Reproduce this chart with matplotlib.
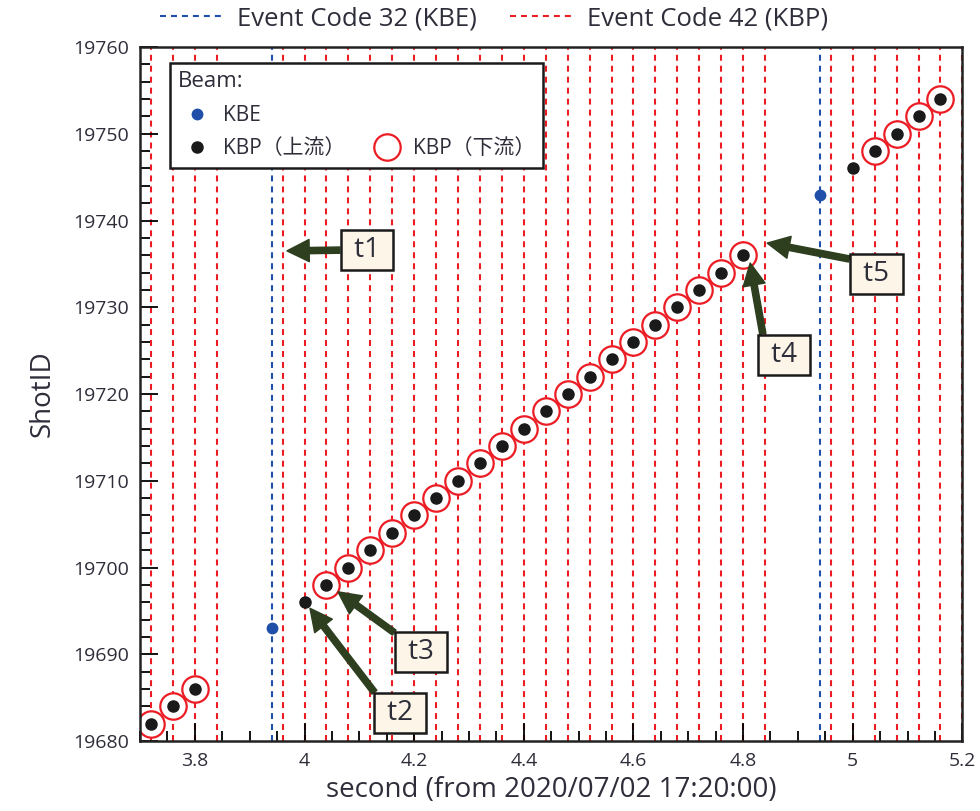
import matplotlib
matplotlib.use("Agg")
import matplotlib.pyplot as plt
from matplotlib.lines import Line2D
from matplotlib.ticker import MultipleLocator

plt.rcParams['font.family'] = ['Open Sans', 'Noto Sans CJK JP', 'DejaVu Sans']
plt.rcParams['lines.scale_dashes'] = False

# event code timings (seconds)
kbe_events = [3.94, 4.94]
kbp_events = [3.72, 3.76, 3.80, 3.84, 3.96, 4.00, 4.04, 4.08, 4.12, 4.16,
              4.20, 4.24, 4.28, 4.32, 4.36, 4.40, 4.44, 4.48, 4.52, 4.56,
              4.60, 4.64, 4.68, 4.72, 4.76, 4.80, 4.84, 4.96, 5.00, 5.04,
              5.08, 5.12, 5.16, 5.20]

# beam shots
kbe_x = [3.94, 4.94]
kbe_y = [19693, 19743]

kbp_up_x = [3.72, 3.76, 3.80, 4.00, 4.04, 4.08, 4.12, 4.16, 4.20, 4.24,
            4.28, 4.32, 4.36, 4.40, 4.44, 4.48, 4.52, 4.56, 4.60, 4.64,
            4.68, 4.72, 4.76, 4.80, 5.00, 5.04, 5.08, 5.12, 5.16]
kbp_up_y = [19682, 19684, 19686, 19696, 19698, 19700, 19702, 19704, 19706, 19708,
            19710, 19712, 19714, 19716, 19718, 19720, 19722, 19724, 19726, 19728,
            19730, 19732, 19734, 19736, 19746, 19748, 19750, 19752, 19754]

kbp_down_x = [3.72, 3.76, 3.80, 4.04, 4.08, 4.12, 4.16, 4.20, 4.24, 4.28,
              4.32, 4.36, 4.40, 4.44, 4.48, 4.52, 4.56, 4.60, 4.64, 4.68,
              4.72, 4.76, 4.80, 5.04, 5.08, 5.12, 5.16]
kbp_down_y = [19682, 19684, 19686, 19698, 19700, 19702, 19704, 19706, 19708, 19710,
              19712, 19714, 19716, 19718, 19720, 19722, 19724, 19726, 19728, 19730,
              19732, 19734, 19736, 19748, 19750, 19752, 19754]

# annotations: label, arrow tip, box centre
notes = [
    ("t1", (3.968, 19736.5), (4.114, 19736.6)),
    ("t2", (4.010, 19695.3), (4.174, 19683.2)),
    ("t3", (4.061, 19697.2), (4.213, 19690.3)),
    ("t4", (4.813, 19735.1), (4.875, 19724.5)),
    ("t5", (4.844, 19737.4), (5.043, 19733.8)),
]

RED = '#ec1c24'
BLUE = '#1f4fa8'
TXT = '#2e2e3a'
DASH = (0, (4.3, 3.6))

fig = plt.figure(figsize=(9.8, 8.11), dpi=100)
ax = fig.add_axes([0.1429, 0.0863, 0.8391, 0.8557])

for x in kbp_events:
    ax.axvline(x, color=RED, lw=1.5, ls=DASH, zorder=1)
for x in kbe_events:
    ax.axvline(x, color=BLUE, lw=1.5, ls=DASH, zorder=1)

ax.plot(kbp_down_x, kbp_down_y, 'o', ms=19, mfc='white', mec=RED, mew=1.6, zorder=2)
ax.plot(kbp_up_x, kbp_up_y, 'o', ms=8, color='#1a1a1a', zorder=3)
ax.plot(kbe_x, kbe_y, 'o', ms=7.5, color=BLUE, zorder=3)

for label, tip, box in notes:
    ax.annotate(' ' + label + ' ', xy=tip, xytext=box, ha='center', va='center',
                fontsize=20, color=TXT,
                bbox=dict(boxstyle='square,pad=0.22', fc='#fdf6e8', ec='#1a1a1a', lw=1.8),
                arrowprops=dict(fc='#2d3f1f', ec='#2d3f1f', width=4.5, headwidth=16,
                                headlength=16, shrink=0.0),
                zorder=5)

ax.set_xlim(3.7, 5.2)
ax.set_ylim(19680, 19760)
ax.xaxis.set_major_locator(MultipleLocator(0.2))
ax.xaxis.set_minor_locator(MultipleLocator(0.05))
ax.yaxis.set_major_locator(MultipleLocator(10))
ax.yaxis.set_minor_locator(MultipleLocator(2))
ax.set_xticks([3.8, 4.0, 4.2, 4.4, 4.6, 4.8, 5.0, 5.2])
ax.set_xticklabels(['3.8', '4', '4.2', '4.4', '4.6', '4.8', '5', '5.2'])
ax.tick_params(which='major', direction='in', length=13, width=1.3,
               labelsize=14, labelcolor=TXT, pad=8)
ax.tick_params(which='minor', direction='in', length=7, width=1.3)
for s in ax.spines.values():
    s.set_linewidth(1.8)
    s.set_color('#222222')

ax.set_xlabel('second (from 2020/07/02 17:20:00)', fontsize=20, color=TXT, labelpad=4)
ax.set_ylabel('ShotID', fontsize=20, color=TXT, labelpad=12)

# legend inside: beam markers
h_kbe = Line2D([], [], ls='none', marker='o', ms=7.5, color=BLUE)
h_up = Line2D([], [], ls='none', marker='o', ms=8, color='#1a1a1a')
h_blank = Line2D([], [], ls='none')
h_down = Line2D([], [], ls='none', marker='o', ms=19, mfc='white', mec=RED, mew=1.6)
leg = ax.legend([h_kbe, h_up, h_blank, h_down],
                ['KBE', 'KBP（上流）', '', 'KBP（下流）'],
                ncol=2, title='Beam:', loc='upper left', bbox_to_anchor=(0.036, 0.977),
                borderaxespad=0, fontsize=15, title_fontsize=16, alignment='left',
                fancybox=False, framealpha=1, edgecolor='#1a1a1a', labelcolor=TXT,
                handlelength=1.8, handletextpad=0.35, columnspacing=1.1,
                labelspacing=0.6, borderpad=0.4)
leg.get_frame().set_linewidth(1.8)
leg.get_title().set_color(TXT)

# legend on top: event codes
h32 = Line2D([], [], color=BLUE, lw=1.5, ls=DASH)
h42 = Line2D([], [], color=RED, lw=1.5, ls=DASH)
fig.legend([h32, h42], ['Event Code 32 (KBE)', 'Event Code 42 (KBP)'],
           ncol=2, loc='center', bbox_to_anchor=(0.504, 0.977), frameon=False,
           fontsize=18.5, labelcolor=TXT, handlelength=2.45, handletextpad=0.55,
           columnspacing=1.3)

fig.savefig('out.png', dpi=100)
